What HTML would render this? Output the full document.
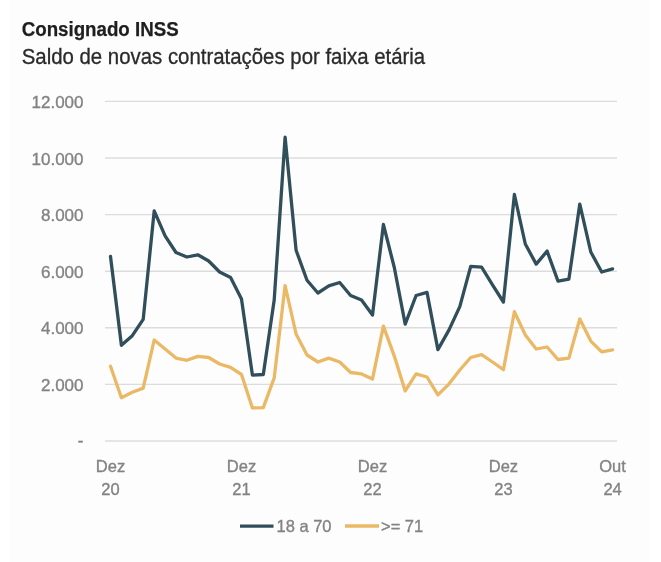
<!DOCTYPE html>
<html><head><meta charset="utf-8"><style>
html,body{margin:0;padding:0;background:#fff;}
body{width:661px;height:562px;overflow:hidden;position:relative;}
svg{position:absolute;left:0;top:0;filter:blur(0.6px);}
</style></head><body>
<svg width="661" height="562" viewBox="0 0 661 562">
<rect x="0" y="0" width="661" height="562" fill="#ffffff"/>
<rect x="10" y="0" width="639" height="562" fill="#fdfdfd"/>
<g font-family="'Liberation Sans', sans-serif">
<text x="21.7" y="36.1" font-size="20" font-weight="bold" fill="#1e1e1e" stroke="#1e1e1e" stroke-width="0.25" textLength="157" lengthAdjust="spacingAndGlyphs">Consignado INSS</text>
<text x="21.7" y="63.8" font-size="21.5" fill="#2a2a2a" stroke="#2a2a2a" stroke-width="0.3" textLength="403.5" lengthAdjust="spacingAndGlyphs">Saldo de novas contratações por faixa etária</text>
</g>
<g stroke="#dcdcdc" stroke-width="1.4"><line x1="105" x2="617" y1="441.0" y2="441.0"/><line x1="105" x2="617" y1="384.4" y2="384.4"/><line x1="105" x2="617" y1="327.8" y2="327.8"/><line x1="105" x2="617" y1="271.2" y2="271.2"/><line x1="105" x2="617" y1="214.6" y2="214.6"/><line x1="105" x2="617" y1="158.0" y2="158.0"/><line x1="105" x2="617" y1="101.4" y2="101.4"/></g>
<g font-family="'Liberation Sans', sans-serif" font-size="16.5" fill="#838383" stroke="#838383" stroke-width="0.35"><g font-size="17"><text x="83.5" y="391.0" text-anchor="end">2.000</text><text x="83.5" y="334.4" text-anchor="end">4.000</text><text x="83.5" y="277.8" text-anchor="end">6.000</text><text x="83.5" y="221.2" text-anchor="end">8.000</text><text x="83.5" y="164.6" text-anchor="end">10.000</text><text x="83.5" y="108.0" text-anchor="end">12.000</text><text x="83.5" y="446.2" text-anchor="end">-</text></g><text x="110.5" y="471.5" text-anchor="middle">Dez</text><text x="110.5" y="494.5" text-anchor="middle">20</text><text x="241.5" y="471.5" text-anchor="middle">Dez</text><text x="241.5" y="494.5" text-anchor="middle">21</text><text x="372.5" y="471.5" text-anchor="middle">Dez</text><text x="372.5" y="494.5" text-anchor="middle">22</text><text x="503.4" y="471.5" text-anchor="middle">Dez</text><text x="503.4" y="494.5" text-anchor="middle">23</text><text x="612.6" y="471.5" text-anchor="middle">Out</text><text x="612.6" y="494.5" text-anchor="middle">24</text>
<text x="276.5" y="532" font-size="16.5">18 a 70</text>
<text x="381" y="532" font-size="16.5">&gt;= 71</text>
</g>
<polyline points="110.5,366.3 121.4,397.7 132.3,392.3 143.2,388.1 154.2,340.0 165.1,349.0 176.0,358.1 186.9,360.3 197.8,356.4 208.7,357.5 219.6,364.0 230.6,367.4 241.5,374.5 252.4,407.9 263.3,407.6 274.2,377.9 285.1,285.6 296.1,334.0 307.0,355.0 317.9,362.0 328.8,358.1 339.7,362.0 350.6,372.5 361.5,373.9 372.5,379.0 383.4,326.1 394.3,356.1 405.2,390.9 416.1,373.9 427.0,377.0 437.9,394.9 448.9,384.1 459.8,370.0 470.7,357.5 481.6,354.7 492.5,362.0 503.4,369.7 514.4,311.7 525.3,334.9 536.2,349.0 547.1,347.0 558.0,359.5 568.9,358.1 579.8,319.0 590.8,341.1 601.7,351.9 612.6,349.9" fill="none" stroke="#ebb865" stroke-width="3.3" stroke-linejoin="round" stroke-linecap="round"/>
<polyline points="110.5,256.5 121.4,345.3 132.3,335.7 143.2,319.3 154.2,210.9 165.1,235.8 176.0,252.5 186.9,257.0 197.8,254.8 208.7,261.0 219.6,272.0 230.6,277.4 241.5,298.9 252.4,375.1 263.3,374.5 274.2,300.1 285.1,137.1 296.1,250.3 307.0,280.3 317.9,293.0 328.8,285.9 339.7,282.5 350.6,295.5 361.5,300.1 372.5,315.1 383.4,224.5 394.3,267.5 405.2,324.1 416.1,295.5 427.0,292.4 437.9,349.6 448.9,330.1 459.8,306.6 470.7,266.4 481.6,267.2 492.5,284.8 503.4,302.0 514.4,194.5 525.3,244.0 536.2,264.1 547.1,251.1 558.0,281.1 568.9,279.1 579.8,204.1 590.8,252.0 601.7,272.0 612.6,268.9" fill="none" stroke="#314e5b" stroke-width="3.3" stroke-linejoin="round" stroke-linecap="round"/>
<line x1="240" x2="273.5" y1="526.1" y2="526.1" stroke="#314e5b" stroke-width="3.3"/>
<line x1="345" x2="379" y1="526" y2="526" stroke="#ebb865" stroke-width="3.3"/>
</svg>
</body></html>
